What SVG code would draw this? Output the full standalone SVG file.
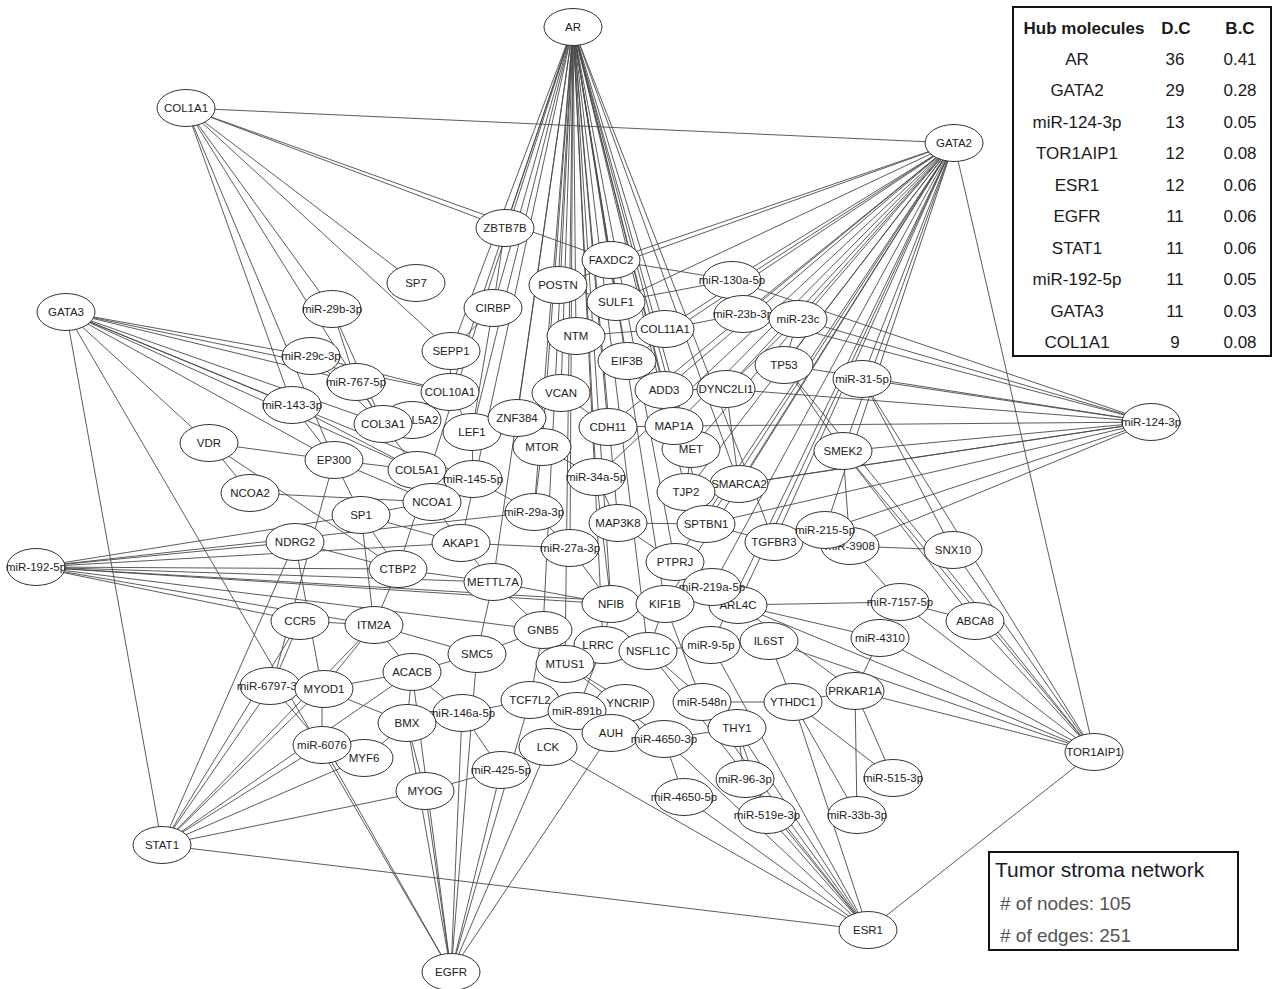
<svg xmlns="http://www.w3.org/2000/svg" width="1278" height="989" viewBox="0 0 1278 989">
<style>
.e path{stroke:#4a4a4a;stroke-width:0.9;fill:none}
.n ellipse{fill:#fff;stroke:#333;stroke-width:1}
.n text{font-family:"Liberation Sans",Arial,sans-serif;font-size:11.5px;fill:#222;text-anchor:middle}
.tb{font-family:"Liberation Sans",Arial,sans-serif;font-size:17px;fill:#1a1a1a;text-anchor:middle}
.tb .h{font-weight:bold}
.lg{font-family:"Liberation Sans",Arial,sans-serif}
</style>
<rect width="1278" height="989" fill="#fff"/>
<g id="edges" class="e">
<path d="M573 27L505 228"/><path d="M573 27L493 308"/><path d="M573 27L558 285"/><path d="M573 27L611 260"/><path d="M573 27L616 302"/><path d="M573 27L576 336"/><path d="M573 27L665 329"/><path d="M573 27L451 351"/><path d="M573 27L627 361"/><path d="M573 27L561 393"/><path d="M573 27L664 390"/><path d="M573 27L450 392"/><path d="M573 27L517 418"/><path d="M573 27L472 432"/><path d="M573 27L542 447"/><path d="M573 27L608 427"/><path d="M573 27L674 426"/><path d="M573 27L691 449"/><path d="M573 27L596 477"/><path d="M573 27L686 492"/><path d="M573 27L739 484"/><path d="M573 27L534 512"/><path d="M573 27L618 523"/><path d="M573 27L706 524"/><path d="M573 27L461 543"/><path d="M573 27L570 548"/><path d="M573 27L675 562"/><path d="M573 27L493 582"/><path d="M573 27L611 604"/><path d="M573 27L665 604"/><path d="M573 27L543 630"/><path d="M573 27L603 645"/><path d="M573 27L648 651"/><path d="M573 27L565 664"/><path d="M573 27L774 542"/><path d="M573 27L398 569"/>
<path d="M954 143L186 108"/><path d="M954 143L1094 752"/><path d="M954 143L611 260"/><path d="M954 143L616 302"/><path d="M954 143L558 285"/><path d="M954 143L732 280"/><path d="M954 143L743 314"/><path d="M954 143L798 319"/><path d="M954 143L665 329"/><path d="M954 143L627 361"/><path d="M954 143L784 365"/><path d="M954 143L664 390"/><path d="M954 143L726 389"/><path d="M954 143L674 426"/><path d="M954 143L691 449"/><path d="M954 143L739 484"/><path d="M954 143L686 492"/><path d="M954 143L706 524"/><path d="M954 143L862 379"/><path d="M954 143L843 451"/><path d="M954 143L774 542"/><path d="M954 143L825 530"/><path d="M954 143L608 427"/><path d="M954 143L675 562"/><path d="M954 143L712 587"/><path d="M954 143L738 605"/><path d="M954 143L665 604"/><path d="M954 143L711 645"/><path d="M954 143L596 477"/>
<path d="M1151 422L732 280"/><path d="M1151 422L743 314"/><path d="M1151 422L798 319"/><path d="M1151 422L784 365"/><path d="M1151 422L862 379"/><path d="M1151 422L726 389"/><path d="M1151 422L674 426"/><path d="M1151 422L843 451"/><path d="M1151 422L739 484"/><path d="M1151 422L686 492"/><path d="M1151 422L706 524"/><path d="M1151 422L825 530"/><path d="M1151 422L850 546"/>
<path d="M1094 752L868 930"/><path d="M1094 752L862 379"/><path d="M1094 752L843 451"/><path d="M1094 752L953 550"/><path d="M1094 752L975 621"/><path d="M1094 752L738 605"/><path d="M1094 752L880 638"/><path d="M1094 752L855 691"/><path d="M1094 752L900 602"/><path d="M1094 752L784 365"/><path d="M1094 752L769 641"/>
<path d="M868 930L162 845"/><path d="M868 930L737 728"/><path d="M868 930L745 779"/><path d="M868 930L767 815"/><path d="M868 930L664 739"/><path d="M868 930L702 702"/><path d="M868 930L793 702"/><path d="M868 930L548 747"/><path d="M868 930L684 797"/><path d="M868 930L648 651"/><path d="M868 930L711 645"/>
<path d="M451 972L66 312"/><path d="M451 972L425 791"/><path d="M451 972L407 723"/><path d="M451 972L412 672"/><path d="M451 972L462 713"/><path d="M451 972L477 654"/><path d="M451 972L530 700"/><path d="M451 972L548 747"/><path d="M451 972L611 733"/><path d="M451 972L501 770"/><path d="M451 972L322 745"/>
<path d="M162 845L66 312"/><path d="M162 845L295 542"/><path d="M162 845L272 686"/><path d="M162 845L322 689"/><path d="M162 845L322 745"/><path d="M162 845L364 758"/><path d="M162 845L425 791"/><path d="M162 845L412 672"/><path d="M162 845L374 625"/><path d="M162 845L300 621"/>
<path d="M36 567L295 542"/><path d="M36 567L361 515"/><path d="M36 567L461 543"/><path d="M36 567L534 512"/><path d="M36 567L398 569"/><path d="M36 567L493 582"/><path d="M36 567L611 604"/><path d="M36 567L665 604"/><path d="M36 567L543 630"/><path d="M36 567L300 621"/><path d="M36 567L374 625"/>
<path d="M66 312L311 356"/><path d="M66 312L356 382"/><path d="M66 312L450 392"/><path d="M66 312L292 405"/><path d="M66 312L383 424"/><path d="M66 312L417 470"/><path d="M66 312L334 460"/><path d="M66 312L209 443"/><path d="M66 312L473 479"/>
<path d="M186 108L505 228"/><path d="M186 108L611 260"/><path d="M186 108L416 283"/><path d="M186 108L332 309"/><path d="M186 108L451 351"/><path d="M186 108L292 405"/><path d="M186 108L334 460"/><path d="M186 108L383 424"/>
<path d="M209 443L334 460"/><path d="M209 443L250 493"/><path d="M209 443L398 569"/><path d="M250 493L432 502"/><path d="M334 460L361 515"/><path d="M334 460L432 502"/><path d="M334 460L417 470"/><path d="M334 460L272 686"/><path d="M334 460L292 405"/>
<path d="M361 515L432 502"/><path d="M361 515L398 569"/><path d="M361 515L374 625"/><path d="M361 515L461 543"/><path d="M295 542L398 569"/><path d="M295 542L322 689"/>
<path d="M300 621L374 625"/><path d="M300 621L272 686"/><path d="M374 625L412 672"/><path d="M374 625L398 569"/><path d="M374 625L477 654"/><path d="M374 625L322 689"/>
<path d="M412 672L407 723"/><path d="M412 672L322 689"/><path d="M412 672L462 713"/><path d="M412 672L477 654"/><path d="M407 723L364 758"/><path d="M407 723L425 791"/><path d="M322 689L322 745"/><path d="M322 689L407 723"/><path d="M272 686L322 745"/>
<path d="M462 713L530 700"/><path d="M462 713L501 770"/><path d="M477 654L543 630"/><path d="M477 654L493 582"/><path d="M493 582L461 543"/><path d="M493 582L543 630"/><path d="M493 582L398 569"/><path d="M493 582L611 604"/><path d="M501 770L425 791"/><path d="M501 770L548 747"/>
<path d="M383 424L417 470"/><path d="M383 424L450 392"/><path d="M383 424L356 382"/><path d="M383 424L311 356"/><path d="M420 419L450 392"/><path d="M450 392L451 351"/><path d="M450 392L472 432"/><path d="M417 470L473 479"/><path d="M417 470L432 502"/>
<path d="M472 432L517 418"/><path d="M472 432L473 479"/><path d="M517 418L542 447"/><path d="M517 418L561 393"/><path d="M542 447L596 477"/><path d="M542 447L534 512"/><path d="M473 479L534 512"/><path d="M432 502L461 543"/><path d="M432 502L473 479"/><path d="M461 543L570 548"/><path d="M534 512L570 548"/>
<path d="M332 309L356 382"/><path d="M332 309L383 424"/><path d="M311 356L450 392"/><path d="M292 405L417 470"/><path d="M451 351L493 308"/><path d="M493 308L505 228"/><path d="M493 308L472 432"/><path d="M558 285L616 302"/><path d="M561 393L608 427"/><path d="M576 336L665 329"/><path d="M616 302L732 280"/><path d="M611 260L732 280"/>
<path d="M627 361L664 390"/><path d="M664 390L674 426"/><path d="M664 390L726 389"/><path d="M608 427L674 426"/><path d="M674 426L691 449"/><path d="M691 449L686 492"/><path d="M686 492L739 484"/><path d="M686 492L706 524"/><path d="M596 477L618 523"/><path d="M618 523L706 524"/><path d="M618 523L675 562"/><path d="M706 524L774 542"/><path d="M774 542L825 530"/><path d="M825 530L850 546"/><path d="M850 546L953 550"/><path d="M850 546L900 602"/><path d="M900 602L975 621"/><path d="M880 638L738 605"/>
<path d="M675 562L712 587"/><path d="M712 587L738 605"/><path d="M665 604L611 604"/><path d="M665 604L648 651"/><path d="M611 604L603 645"/><path d="M543 630L565 664"/><path d="M603 645L648 651"/><path d="M565 664L628 703"/><path d="M648 651L711 645"/><path d="M711 645L769 641"/><path d="M769 641L793 702"/><path d="M702 702L793 702"/><path d="M793 702L855 691"/><path d="M855 691L893 778"/><path d="M855 691L857 815"/>
<path d="M737 728L745 779"/><path d="M737 728L702 702"/><path d="M664 739L684 797"/><path d="M611 733L577 711"/><path d="M577 711L530 700"/><path d="M628 703L577 711"/><path d="M664 739L737 728"/><path d="M745 779L767 815"/><path d="M793 702L857 815"/><path d="M793 702L893 778"/><path d="M737 728L767 815"/>
<path d="M784 365L798 319"/><path d="M784 365L843 451"/><path d="M743 314L798 319"/><path d="M798 319L726 389"/><path d="M665 329L743 314"/><path d="M726 389L739 484"/><path d="M843 451L850 546"/><path d="M862 379L953 550"/><path d="M843 451L975 621"/><path d="M738 605L855 691"/><path d="M880 638L855 691"/><path d="M738 605L900 602"/>
<path d="M565 664L664 739"/><path d="M648 651L737 728"/><path d="M665 604L702 702"/><path d="M603 645L577 711"/><path d="M596 477L611 604"/><path d="M570 548L611 604"/><path d="M543 630L530 700"/>
</g>
<g id="nodes" class="n">
<g id="n-AR"><ellipse cx="573" cy="27" rx="29" ry="18.5"/><text x="573" y="31">AR</text></g>
<g id="n-COL1A1"><ellipse cx="186" cy="108" rx="29" ry="18.5"/><text x="186" y="112">COL1A1</text></g>
<g id="n-GATA2"><ellipse cx="954" cy="143" rx="29" ry="18.5"/><text x="954" y="147">GATA2</text></g>
<g id="n-GATA3"><ellipse cx="66" cy="312" rx="29" ry="18.5"/><text x="66" y="316">GATA3</text></g>
<g id="n-miR-124-3p"><ellipse cx="1151" cy="422" rx="29" ry="18.5"/><text x="1151" y="426">miR-124-3p</text></g>
<g id="n-miR-192-5p"><ellipse cx="36" cy="567" rx="29" ry="18.5"/><text x="36" y="571">miR-192-5p</text></g>
<g id="n-STAT1"><ellipse cx="162" cy="845" rx="29" ry="18.5"/><text x="162" y="849">STAT1</text></g>
<g id="n-EGFR"><ellipse cx="451" cy="972" rx="29" ry="18.5"/><text x="451" y="976">EGFR</text></g>
<g id="n-ESR1"><ellipse cx="868" cy="930" rx="29" ry="18.5"/><text x="868" y="934">ESR1</text></g>
<g id="n-TOR1AIP1"><ellipse cx="1094" cy="752" rx="29" ry="18.5"/><text x="1094" y="756">TOR1AIP1</text></g>
<g id="n-ZBTB7B"><ellipse cx="505" cy="228" rx="29" ry="18.5"/><text x="505" y="232">ZBTB7B</text></g>
<g id="n-SP7"><ellipse cx="416" cy="283" rx="29" ry="18.5"/><text x="416" y="287">SP7</text></g>
<g id="n-miR-29b-3p"><ellipse cx="332" cy="309" rx="29" ry="18.5"/><text x="332" y="313">miR-29b-3p</text></g>
<g id="n-CIRBP"><ellipse cx="493" cy="308" rx="29" ry="18.5"/><text x="493" y="312">CIRBP</text></g>
<g id="n-POSTN"><ellipse cx="558" cy="285" rx="29" ry="18.5"/><text x="558" y="289">POSTN</text></g>
<g id="n-FAXDC2"><ellipse cx="611" cy="260" rx="29" ry="18.5"/><text x="611" y="264">FAXDC2</text></g>
<g id="n-SULF1"><ellipse cx="616" cy="302" rx="29" ry="18.5"/><text x="616" y="306">SULF1</text></g>
<g id="n-miR-130a-5p"><ellipse cx="732" cy="280" rx="29" ry="18.5"/><text x="732" y="284">miR-130a-5p</text></g>
<g id="n-miR-23b-3p"><ellipse cx="743" cy="314" rx="29" ry="18.5"/><text x="743" y="318">miR-23b-3p</text></g>
<g id="n-miR-23c"><ellipse cx="798" cy="319" rx="29" ry="18.5"/><text x="798" y="323">miR-23c</text></g>
<g id="n-NTM"><ellipse cx="576" cy="336" rx="29" ry="18.5"/><text x="576" y="340">NTM</text></g>
<g id="n-COL11A1"><ellipse cx="665" cy="329" rx="29" ry="18.5"/><text x="665" y="333">COL11A1</text></g>
<g id="n-SEPP1"><ellipse cx="451" cy="351" rx="29" ry="18.5"/><text x="451" y="355">SEPP1</text></g>
<g id="n-EIF3B"><ellipse cx="627" cy="361" rx="29" ry="18.5"/><text x="627" y="365">EIF3B</text></g>
<g id="n-TP53"><ellipse cx="784" cy="365" rx="29" ry="18.5"/><text x="784" y="369">TP53</text></g>
<g id="n-miR-31-5p"><ellipse cx="862" cy="379" rx="29" ry="18.5"/><text x="862" y="383">miR-31-5p</text></g>
<g id="n-miR-29c-3p"><ellipse cx="311" cy="356" rx="29" ry="18.5"/><text x="311" y="360">miR-29c-3p</text></g>
<g id="n-miR-767-5p"><ellipse cx="356" cy="382" rx="29" ry="18.5"/><text x="356" y="386">miR-767-5p</text></g>
<g id="n-COL5A2"><ellipse cx="412" cy="420" rx="29" ry="18.5"/><text x="425" y="424">L5A2</text></g>
<g id="n-COL10A1"><ellipse cx="450" cy="392" rx="29" ry="18.5"/><text x="450" y="396">COL10A1</text></g>
<g id="n-VCAN"><ellipse cx="561" cy="393" rx="29" ry="18.5"/><text x="561" y="397">VCAN</text></g>
<g id="n-ADD3"><ellipse cx="664" cy="390" rx="29" ry="18.5"/><text x="664" y="394">ADD3</text></g>
<g id="n-DYNC2LI1"><ellipse cx="726" cy="389" rx="29" ry="18.5"/><text x="726" y="393">DYNC2LI1</text></g>
<g id="n-miR-143-3p"><ellipse cx="292" cy="405" rx="29" ry="18.5"/><text x="292" y="409">miR-143-3p</text></g>
<g id="n-COL3A1"><ellipse cx="383" cy="424" rx="29" ry="18.5"/><text x="383" y="428">COL3A1</text></g>
<g id="n-LEF1"><ellipse cx="472" cy="432" rx="29" ry="18.5"/><text x="472" y="436">LEF1</text></g>
<g id="n-MTOR"><ellipse cx="542" cy="447" rx="29" ry="18.5"/><text x="542" y="451">MTOR</text></g>
<g id="n-ZNF384"><ellipse cx="517" cy="418" rx="29" ry="18.5"/><text x="517" y="422">ZNF384</text></g>
<g id="n-CDH11"><ellipse cx="608" cy="427" rx="29" ry="18.5"/><text x="608" y="431">CDH11</text></g>
<g id="n-MET"><ellipse cx="691" cy="449" rx="29" ry="18.5"/><text x="691" y="453">MET</text></g>
<g id="n-MAP1A"><ellipse cx="674" cy="426" rx="29" ry="18.5"/><text x="674" y="430">MAP1A</text></g>
<g id="n-SMEK2"><ellipse cx="843" cy="451" rx="29" ry="18.5"/><text x="843" y="455">SMEK2</text></g>
<g id="n-VDR"><ellipse cx="209" cy="443" rx="29" ry="18.5"/><text x="209" y="447">VDR</text></g>
<g id="n-EP300"><ellipse cx="334" cy="460" rx="29" ry="18.5"/><text x="334" y="464">EP300</text></g>
<g id="n-COL5A1"><ellipse cx="417" cy="470" rx="29" ry="18.5"/><text x="417" y="474">COL5A1</text></g>
<g id="n-miR-145-5p"><ellipse cx="473" cy="479" rx="29" ry="18.5"/><text x="473" y="483">miR-145-5p</text></g>
<g id="n-miR-34a-5p"><ellipse cx="596" cy="477" rx="29" ry="18.5"/><text x="596" y="481">miR-34a-5p</text></g>
<g id="n-SMARCA2"><ellipse cx="739" cy="484" rx="29" ry="18.5"/><text x="739" y="488">SMARCA2</text></g>
<g id="n-TJP2"><ellipse cx="686" cy="492" rx="29" ry="18.5"/><text x="686" y="496">TJP2</text></g>
<g id="n-NCOA2"><ellipse cx="250" cy="493" rx="29" ry="18.5"/><text x="250" y="497">NCOA2</text></g>
<g id="n-SP1"><ellipse cx="361" cy="515" rx="29" ry="18.5"/><text x="361" y="519">SP1</text></g>
<g id="n-NCOA1"><ellipse cx="432" cy="502" rx="29" ry="18.5"/><text x="432" y="506">NCOA1</text></g>
<g id="n-miR-29a-3p"><ellipse cx="534" cy="512" rx="29" ry="18.5"/><text x="534" y="516">miR-29a-3p</text></g>
<g id="n-MAP3K8"><ellipse cx="618" cy="523" rx="29" ry="18.5"/><text x="618" y="527">MAP3K8</text></g>
<g id="n-SPTBN1"><ellipse cx="706" cy="524" rx="29" ry="18.5"/><text x="706" y="528">SPTBN1</text></g>
<g id="n-TGFBR3"><ellipse cx="774" cy="542" rx="29" ry="18.5"/><text x="774" y="546">TGFBR3</text></g>
<g id="n-miR-3908"><ellipse cx="850" cy="546" rx="29" ry="18.5"/><text x="850" y="550">miR-3908</text></g>
<g id="n-miR-215-5p"><ellipse cx="825" cy="530" rx="29" ry="18.5"/><text x="825" y="534">miR-215-5p</text></g>
<g id="n-SNX10"><ellipse cx="953" cy="550" rx="29" ry="18.5"/><text x="953" y="554">SNX10</text></g>
<g id="n-NDRG2"><ellipse cx="295" cy="542" rx="29" ry="18.5"/><text x="295" y="546">NDRG2</text></g>
<g id="n-AKAP1"><ellipse cx="461" cy="543" rx="29" ry="18.5"/><text x="461" y="547">AKAP1</text></g>
<g id="n-miR-27a-3p"><ellipse cx="570" cy="548" rx="29" ry="18.5"/><text x="570" y="552">miR-27a-3p</text></g>
<g id="n-PTPRJ"><ellipse cx="675" cy="562" rx="29" ry="18.5"/><text x="675" y="566">PTPRJ</text></g>
<g id="n-CTBP2"><ellipse cx="398" cy="569" rx="29" ry="18.5"/><text x="398" y="573">CTBP2</text></g>
<g id="n-METTL7A"><ellipse cx="493" cy="582" rx="29" ry="18.5"/><text x="493" y="586">METTL7A</text></g>
<g id="n-ARL4C"><ellipse cx="738" cy="605" rx="29" ry="18.5"/><text x="738" y="609">ARL4C</text></g>
<g id="n-miR-219a-5p"><ellipse cx="712" cy="587" rx="29" ry="18.5"/><text x="712" y="591">miR-219a-5p</text></g>
<g id="n-NFIB"><ellipse cx="611" cy="604" rx="29" ry="18.5"/><text x="611" y="608">NFIB</text></g>
<g id="n-KIF1B"><ellipse cx="665" cy="604" rx="29" ry="18.5"/><text x="665" y="608">KIF1B</text></g>
<g id="n-miR-7157-5p"><ellipse cx="900" cy="602" rx="29" ry="18.5"/><text x="900" y="606">miR-7157-5p</text></g>
<g id="n-ABCA8"><ellipse cx="975" cy="621" rx="29" ry="18.5"/><text x="975" y="625">ABCA8</text></g>
<g id="n-CCR5"><ellipse cx="300" cy="621" rx="29" ry="18.5"/><text x="300" y="625">CCR5</text></g>
<g id="n-ITM2A"><ellipse cx="374" cy="625" rx="29" ry="18.5"/><text x="374" y="629">ITM2A</text></g>
<g id="n-GNB5"><ellipse cx="543" cy="630" rx="29" ry="18.5"/><text x="543" y="634">GNB5</text></g>
<g id="n-LRRC"><ellipse cx="603" cy="645" rx="29" ry="18.5"/><text x="598" y="649">LRRC</text></g>
<g id="n-NSFL1C"><ellipse cx="648" cy="651" rx="29" ry="18.5"/><text x="648" y="655">NSFL1C</text></g>
<g id="n-miR-9-5p"><ellipse cx="711" cy="645" rx="29" ry="18.5"/><text x="711" y="649">miR-9-5p</text></g>
<g id="n-IL6ST"><ellipse cx="769" cy="641" rx="29" ry="18.5"/><text x="769" y="645">IL6ST</text></g>
<g id="n-miR-4310"><ellipse cx="880" cy="638" rx="29" ry="18.5"/><text x="880" y="642">miR-4310</text></g>
<g id="n-SMC5"><ellipse cx="477" cy="654" rx="29" ry="18.5"/><text x="477" y="658">SMC5</text></g>
<g id="n-MTUS1"><ellipse cx="565" cy="664" rx="29" ry="18.5"/><text x="565" y="668">MTUS1</text></g>
<g id="n-ACACB"><ellipse cx="412" cy="672" rx="29" ry="18.5"/><text x="412" y="676">ACACB</text></g>
<g id="n-miR-6797-3p"><ellipse cx="270" cy="686" rx="30" ry="18.5"/><text x="270" y="690">miR-6797-3p</text></g>
<g id="n-MYOD1"><ellipse cx="324" cy="689" rx="29" ry="18.5"/><text x="324" y="693">MYOD1</text></g>
<g id="n-PRKAR1A"><ellipse cx="855" cy="691" rx="29" ry="18.5"/><text x="855" y="695">PRKAR1A</text></g>
<g id="n-TCF7L2"><ellipse cx="530" cy="700" rx="29" ry="18.5"/><text x="530" y="704">TCF7L2</text></g>
<g id="n-SYNCRIP"><ellipse cx="625" cy="703" rx="29" ry="18.5"/><text x="628" y="707">YNCRIP</text></g>
<g id="n-miR-891b"><ellipse cx="577" cy="711" rx="29" ry="18.5"/><text x="577" y="715">miR-891b</text></g>
<g id="n-miR-548n"><ellipse cx="702" cy="702" rx="29" ry="18.5"/><text x="702" y="706">miR-548n</text></g>
<g id="n-YTHDC1"><ellipse cx="793" cy="702" rx="29" ry="18.5"/><text x="793" y="706">YTHDC1</text></g>
<g id="n-miR-146a-5p"><ellipse cx="462" cy="713" rx="29" ry="18.5"/><text x="462" y="717">miR-146a-5p</text></g>
<g id="n-BMX"><ellipse cx="407" cy="723" rx="29" ry="18.5"/><text x="407" y="727">BMX</text></g>
<g id="n-AUH"><ellipse cx="611" cy="733" rx="29" ry="18.5"/><text x="611" y="737">AUH</text></g>
<g id="n-miR-4650-3p"><ellipse cx="664" cy="739" rx="29" ry="18.5"/><text x="664" y="743">miR-4650-3p</text></g>
<g id="n-THY1"><ellipse cx="737" cy="728" rx="29" ry="18.5"/><text x="737" y="732">THY1</text></g>
<g id="n-LCK"><ellipse cx="548" cy="747" rx="29" ry="18.5"/><text x="548" y="751">LCK</text></g>
<g id="n-MYF6"><ellipse cx="364" cy="758" rx="29" ry="18.5"/><text x="364" y="762">MYF6</text></g>
<g id="n-miR-6076"><ellipse cx="322" cy="745" rx="29" ry="18.5"/><text x="322" y="749">miR-6076</text></g>
<g id="n-miR-425-5p"><ellipse cx="501" cy="770" rx="29" ry="18.5"/><text x="501" y="774">miR-425-5p</text></g>
<g id="n-miR-96-3p"><ellipse cx="745" cy="779" rx="29" ry="18.5"/><text x="745" y="783">miR-96-3p</text></g>
<g id="n-miR-515-3p"><ellipse cx="893" cy="778" rx="29" ry="18.5"/><text x="893" y="782">miR-515-3p</text></g>
<g id="n-MYOG"><ellipse cx="425" cy="791" rx="29" ry="18.5"/><text x="425" y="795">MYOG</text></g>
<g id="n-miR-4650-5p"><ellipse cx="684" cy="797" rx="29" ry="18.5"/><text x="684" y="801">miR-4650-5p</text></g>
<g id="n-miR-519e-3p"><ellipse cx="767" cy="815" rx="29" ry="18.5"/><text x="767" y="819">miR-519e-3p</text></g>
<g id="n-miR-33b-3p"><ellipse cx="857" cy="815" rx="29" ry="18.5"/><text x="857" y="819">miR-33b-3p</text></g>
</g>
<g id="hub-table" class="tb">
<rect x="1013" y="7" width="258" height="349" fill="#fff" stroke="#111" stroke-width="2"/>
<text class="h" x="1084" y="34">Hub molecules</text><text class="h" x="1176" y="34">D.C</text><text class="h" x="1240" y="34">B.C</text>
<text x="1077" y="65">AR</text><text x="1175" y="65">36</text><text x="1240" y="65">0.41</text>
<text x="1077" y="96">GATA2</text><text x="1175" y="96">29</text><text x="1240" y="96">0.28</text>
<text x="1077" y="128">miR-124-3p</text><text x="1175" y="128">13</text><text x="1240" y="128">0.05</text>
<text x="1077" y="159">TOR1AIP1</text><text x="1175" y="159">12</text><text x="1240" y="159">0.08</text>
<text x="1077" y="191">ESR1</text><text x="1175" y="191">12</text><text x="1240" y="191">0.06</text>
<text x="1077" y="222">EGFR</text><text x="1175" y="222">11</text><text x="1240" y="222">0.06</text>
<text x="1077" y="254">STAT1</text><text x="1175" y="254">11</text><text x="1240" y="254">0.06</text>
<text x="1077" y="285">miR-192-5p</text><text x="1175" y="285">11</text><text x="1240" y="285">0.05</text>
<text x="1077" y="317">GATA3</text><text x="1175" y="317">11</text><text x="1240" y="317">0.03</text>
<text x="1077" y="348">COL1A1</text><text x="1175" y="348">9</text><text x="1240" y="348">0.08</text>
</g>
<g id="legend" class="lg">
<rect x="989" y="852" width="249" height="98" fill="#fff" stroke="#111" stroke-width="2"/>
<text x="995" y="877" font-size="21" fill="#1a1a2a">Tumor stroma network</text>
<text x="1000" y="910" font-size="19" fill="#555"># of nodes: 105</text>
<text x="1000" y="942" font-size="19" fill="#555"># of edges: 251</text>
</g>
</svg>
